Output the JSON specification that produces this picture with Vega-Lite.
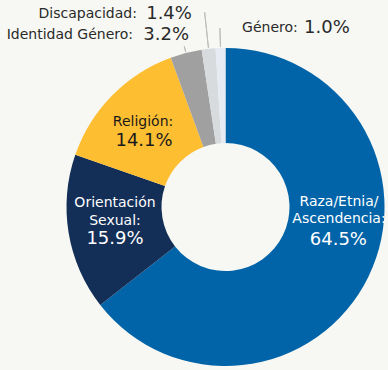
{
  "$schema": "https://vega.github.io/schema/vega-lite/v6.json",
  "width": 325,
  "height": 326,
  "autosize": {"type": "none"},
  "padding": {"left": 63, "top": 44, "right": 0, "bottom": 0},
  "background": "#F7F8F3",
  "config": {"view": {"stroke": null}, "font": "DejaVu Sans"},
  "data": {
    "values": [
      {"cat": "Raza/Etnia/Ascendencia", "v": 64.5, "ord": 1, "name": "Raza/Etnia/\nAscendencia:", "lbl": "64.5%"},
      {"cat": "Orientación Sexual", "v": 15.9, "ord": 2, "name": "Orientación\nSexual:", "lbl": "15.9%"},
      {"cat": "Religión", "v": 14.1, "ord": 3, "name": "Religión:", "lbl": "14.1%"},
      {"cat": "Identidad Género", "v": 3.2, "ord": 4, "name": "Identidad Género:", "lbl": "3.2%"},
      {"cat": "Discapacidad", "v": 1.4, "ord": 5, "name": "Discapacidad:", "lbl": "1.4%"},
      {"cat": "Género", "v": 1.0, "ord": 6, "name": "Género:", "lbl": "1.0%"}
    ]
  },
  "encoding": {
    "theta": {"field": "v", "type": "quantitative", "stack": true},
    "order": {"field": "ord", "type": "quantitative"}
  },
  "layer": [
    {
      "mark": {"type": "arc", "radius": 159, "innerRadius": 64},
      "encoding": {
        "color": {
          "field": "cat", "type": "nominal", "legend": null,
          "scale": {
            "domain": ["Raza/Etnia/Ascendencia", "Orientación Sexual", "Religión", "Identidad Género", "Discapacidad", "Género"],
            "range": ["#0264A8", "#132E57", "#FEBE32", "#A0A0A0", "#D7DBDE", "#E6EAF3"]
          }
        }
      }
    },
    {
      "mark": {"type": "arc", "radius": 179, "innerRadius": 160, "padAngle": 0.3, "fillOpacity": 0, "stroke": "#BDBDBD", "strokeWidth": 1},
      "encoding": {"strokeOpacity": {"condition": {"test": "datum.cat === 'Género'", "value": 1}, "value": 0}}
    },
    {
      "mark": {"type": "arc", "radius": 196, "innerRadius": 160, "padAngle": 0.3, "fillOpacity": 0, "stroke": "#BDBDBD", "strokeWidth": 1},
      "encoding": {"strokeOpacity": {"condition": {"test": "datum.cat === 'Discapacidad'", "value": 1}, "value": 0}}
    },
    {
      "mark": {"type": "arc", "radius": 166, "innerRadius": 160, "padAngle": 0.3, "fillOpacity": 0, "stroke": "#BDBDBD", "strokeWidth": 1},
      "encoding": {"strokeOpacity": {"condition": {"test": "datum.cat === 'Identidad Género'", "value": 1}, "value": 0}}
    },
    {
      "mark": {"type": "text", "radius": 110, "dx": 14.6, "dy": -53.5, "fontSize": 14, "lineBreak": "\n", "lineHeight": 17.5, "fill": "#FFFFFF", "align": "center", "baseline": "middle"},
      "encoding": {"text": {"condition": {"test": "datum.cat === 'Raza/Etnia/Ascendencia'", "field": "name"}, "value": ""}}
    },
    {
      "mark": {"type": "text", "radius": 110, "dx": 14, "dy": -15, "fontSize": 18, "fill": "#FFFFFF", "align": "center", "baseline": "middle"},
      "encoding": {"text": {"condition": {"test": "datum.cat === 'Raza/Etnia/Ascendencia'", "field": "lbl"}, "value": ""}}
    },
    {
      "mark": {"type": "text", "radius": 110, "dx": -2, "dy": -22, "fontSize": 14, "lineBreak": "\n", "lineHeight": 17.5, "fill": "#FFFFFF", "align": "center", "baseline": "middle"},
      "encoding": {"text": {"condition": {"test": "datum.cat === 'Orientación Sexual'", "field": "name"}, "value": ""}}
    },
    {
      "mark": {"type": "text", "radius": 110, "dx": -2, "dy": 14, "fontSize": 18, "fill": "#FFFFFF", "align": "center", "baseline": "middle"},
      "encoding": {"text": {"condition": {"test": "datum.cat === 'Orientación Sexual'", "field": "lbl"}, "value": ""}}
    },
    {
      "mark": {"type": "text", "radius": 110, "dx": -4, "dy": -8, "fontSize": 14, "fill": "#1A1A1A", "align": "center", "baseline": "middle"},
      "encoding": {"text": {"condition": {"test": "datum.cat === 'Religión'", "field": "name"}, "value": ""}}
    },
    {
      "mark": {"type": "text", "radius": 110, "dx": -3, "dy": 11, "fontSize": 18, "fill": "#1A1A1A", "align": "center", "baseline": "middle"},
      "encoding": {"text": {"condition": {"test": "datum.cat === 'Religión'", "field": "lbl"}, "value": ""}}
    },
    {
      "mark": {"type": "text", "radius": 175, "dx": -49, "dy": -2.5, "fontSize": 14, "fill": "#2A2A2A", "align": "right", "baseline": "middle"},
      "encoding": {"text": {"condition": {"test": "datum.cat === 'Identidad Género'", "field": "name"}, "value": ""}}
    },
    {
      "mark": {"type": "text", "radius": 175, "dx": 7, "dy": -2.5, "fontSize": 18, "fill": "#2A2A2A", "align": "right", "baseline": "middle"},
      "encoding": {"text": {"condition": {"test": "datum.cat === 'Identidad Género'", "field": "lbl"}, "value": ""}}
    },
    {
      "mark": {"type": "text", "radius": 195, "dx": -67.8, "dy": 1, "fontSize": 14, "fill": "#2A2A2A", "align": "right", "baseline": "middle"},
      "encoding": {"text": {"condition": {"test": "datum.cat === 'Discapacidad'", "field": "name"}, "value": ""}}
    },
    {
      "mark": {"type": "text", "radius": 195, "dx": -12.8, "dy": 1, "fontSize": 18, "fill": "#2A2A2A", "align": "right", "baseline": "middle"},
      "encoding": {"text": {"condition": {"test": "datum.cat === 'Discapacidad'", "field": "lbl"}, "value": ""}}
    },
    {
      "mark": {"type": "text", "radius": 180, "dx": 22.2, "dy": 1, "fontSize": 14, "fill": "#2A2A2A", "align": "left", "baseline": "middle"},
      "encoding": {"text": {"condition": {"test": "datum.cat === 'Género'", "field": "name"}, "value": ""}}
    },
    {
      "mark": {"type": "text", "radius": 180, "dx": 84.2, "dy": 1, "fontSize": 18, "fill": "#2A2A2A", "align": "left", "baseline": "middle"},
      "encoding": {"text": {"condition": {"test": "datum.cat === 'Género'", "field": "lbl"}, "value": ""}}
    }
  ]
}
